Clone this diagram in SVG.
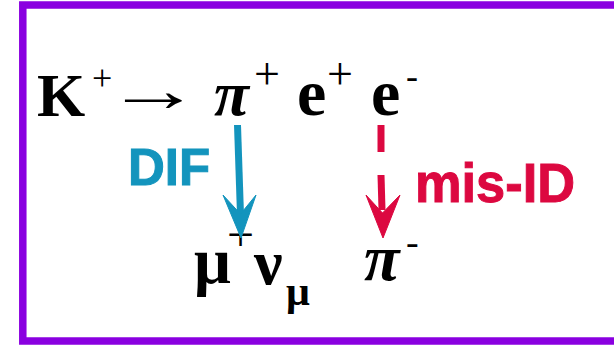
<svg xmlns="http://www.w3.org/2000/svg" width="614" height="348" viewBox="0 0 614 348">
<style>
.m{font-family:"Liberation Serif","DejaVu Serif",serif;font-weight:bold;fill:#000}
.i{font-style:italic}
.s{font-family:"Liberation Serif","DejaVu Serif",serif;font-weight:normal;fill:#000}
.lbl{font-family:"Liberation Sans",Arial,sans-serif;font-weight:bold}
.blue{fill:#1394bd;stroke:#1394bd}
.red{fill:#dc0840;stroke:#dc0840}
</style>
<rect x="22.8" y="5" width="620" height="336" fill="#fff" stroke="#8a00e0" stroke-width="7.5"/>
<g id="top-row">
<text class="m" x="37" y="116" font-size="62">K</text>
<text class="s" x="92" y="90" font-size="36">+</text>
<text class="s" x="105" y="111" font-size="62" textLength="96" lengthAdjust="spacingAndGlyphs">→</text>
<text class="m i" x="214" y="115" font-size="64">π</text>
<text class="s" x="254" y="89" font-size="46">+</text>
<text class="m" x="297" y="115" font-size="66">e</text>
<text class="s" x="327" y="89" font-size="46">+</text>
<text class="m" x="371" y="115" font-size="66">e</text>
<text class="s" x="406" y="88" font-size="36">-</text>
</g>
<g id="bottom-row">
<text class="m" x="194" y="283" font-size="65">μ</text>
<text class="s" x="227" y="251" font-size="48">+</text>
<text class="m" x="254" y="284" font-size="64">ν</text>
<text class="m" x="286" y="305" font-size="42">μ</text>
<text class="m i" x="364" y="280" font-size="65">π</text>
<text class="s" x="406" y="255" font-size="38">-</text>
</g>
<g id="connectors">
<g id="dif-arrow">
<line class="blue" x1="237.5" y1="125" x2="240.5" y2="215" stroke-width="7" fill="none"/>
<path class="blue" d="M223,195 L241,238 L256,195 L240.5,214 Z" stroke="none"/>
</g>
<g id="misid-arrow">
<line class="red" x1="381" y1="125" x2="381" y2="152" stroke-width="7" fill="none"/>
<line class="red" x1="381" y1="175" x2="382" y2="210" stroke-width="7" fill="none"/>
<path class="red" d="M366,195 L383,238 L400,195 L382.5,213 Z" stroke="none"/>
</g>
</g>
<g id="labels">
<text class="lbl blue" x="128" y="185" font-size="51" stroke="none">DIF</text>
<text class="lbl red" x="415" y="202" font-size="55" stroke="none" textLength="160" lengthAdjust="spacingAndGlyphs">mis-ID</text>
</g>
</svg>
